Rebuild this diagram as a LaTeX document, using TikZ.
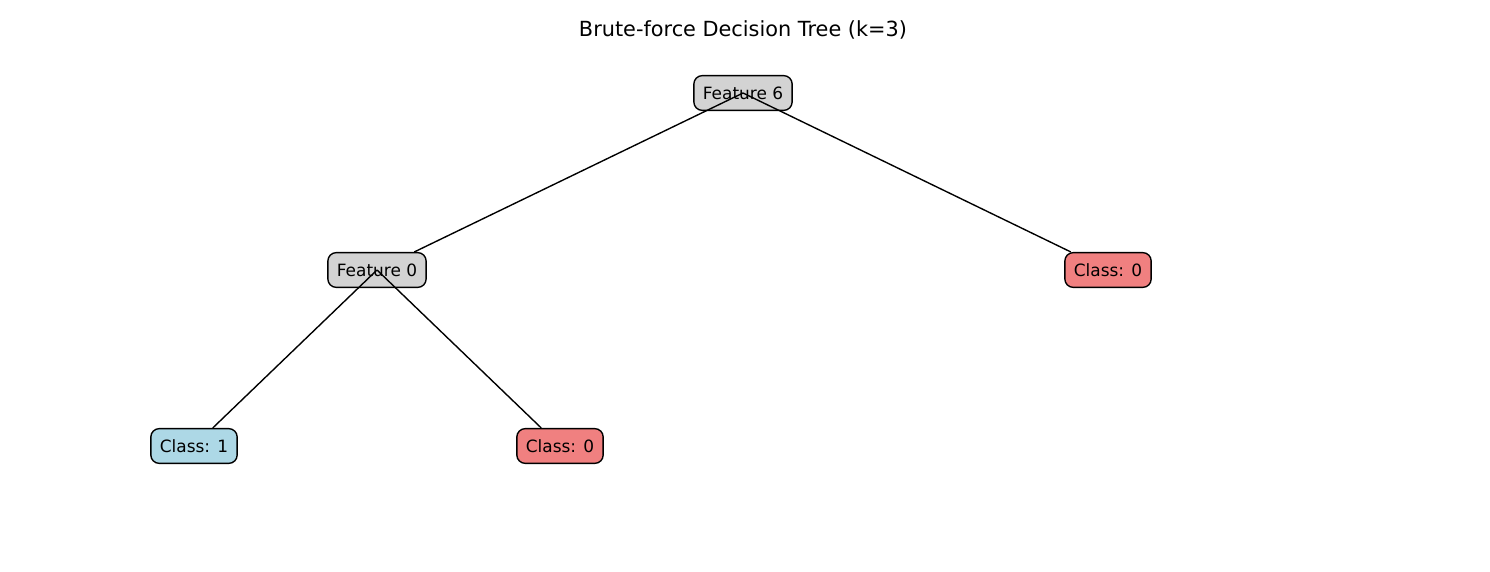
\documentclass[tikz,border=0pt]{standalone}
\usepackage{fontspec}
\setmainfont{DejaVu Sans}
\definecolor{lgray}{RGB}{211,211,211}
\definecolor{lblue}{RGB}{173,216,230}
\definecolor{lcoral}{RGB}{240,128,128}
\tikzset{
  box/.style={draw=black, line width=1pt, rounded corners=6pt, font=\fontsize{12.2}{14}\selectfont, inner xsep=6.5pt, inner ysep=6pt, minimum height=25pt},
  featbox/.style={box, fill=lgray},
  cls1/.style={box, fill=lblue},
  cls0/.style={box, fill=lcoral},
  edge/.style={draw=black, line width=1pt}
}
\begin{document}
\begin{tikzpicture}[x=0.72pt, y=-0.72pt]
\useasboundingbox (0,0) rectangle (1490,572);
\node[font=\fontsize{15}{17}\selectfont] (title) at (743,30) {Brute-force Decision Tree (k=3)};
\node[featbox] (f6) at (743,93) {Feature 6};
\node[featbox] (f0) at (377,270) {Feature 0};
\node[cls0] (c0r) at (1108,270) {Class: 0};
\node[cls1] (c1) at (194,446) {Class: 1};
\node[cls0] (c0m) at (560,446) {Class: 0};
\draw[edge] (f6.center) -- (f0);
\draw[edge] (f6.center) -- (c0r);
\draw[edge] (f0.center) -- (c1);
\draw[edge] (f0.center) -- (c0m);
\end{tikzpicture}
\end{document}
